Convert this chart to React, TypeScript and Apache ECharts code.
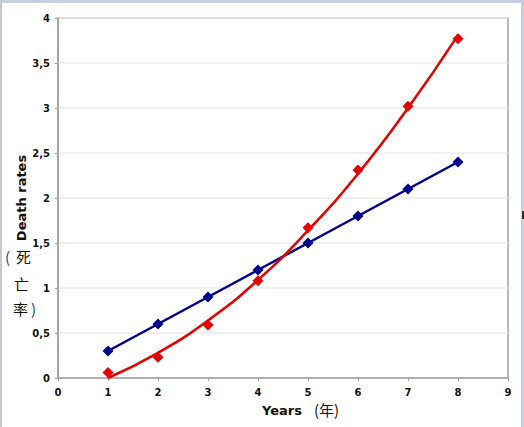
import React, { useEffect, useRef } from "react";
import * as echarts from "echarts";

const years = [1, 2, 3, 4, 5, 6, 7, 8];
const blueValues = [0.3, 0.6, 0.9, 1.2, 1.5, 1.8, 2.1, 2.4];
const redValues = [0.06, 0.23, 0.59, 1.08, 1.67, 2.31, 3.02, 3.77];
const redTrend = [0.0, 0.28, 0.64, 1.09, 1.64, 2.27, 3.0, 3.81];
const yTickLabels = ["0", "0,5", "1", "1,5", "2", "2,5", "3", "3,5", "4"];

const BLUE = "#00008f";
const RED = "#e60000";

export default function App() {
  const ref = useRef<HTMLDivElement>(null);
  useEffect(() => {
    if (!ref.current) return;
    const chart = echarts.init(ref.current, null, { renderer: "svg" });
    const pair = (vals: number[]) => years.map((x, i) => [x, vals[i]]);
    chart.setOption({
      animation: false,
      backgroundColor: "#ffffff",
      grid: {
        left: 58,
        right: 16,
        top: 18,
        bottom: 49,
        show: true,
        borderColor: "#a0a0a0",
        borderWidth: 1.5,
        backgroundColor: "transparent",
      },
      xAxis: {
        type: "value",
        min: 0,
        max: 9,
        interval: 1,
        axisLine: { show: true, lineStyle: { color: "#a0a0a0", width: 1.5 } },
        axisTick: { show: true, length: 3, lineStyle: { color: "#a0a0a0" } },
        splitLine: { show: false },
        axisLabel: {
          color: "#111",
          fontFamily: "DejaVu Sans",
          fontWeight: "bold",
          fontSize: 10,
          margin: 9,
        },
      },
      yAxis: {
        type: "value",
        min: 0,
        max: 4,
        interval: 0.5,
        axisLine: { show: true, lineStyle: { color: "#a0a0a0", width: 1.5 } },
        axisTick: { show: true, length: 3, lineStyle: { color: "#a0a0a0" } },
        splitLine: { show: true, lineStyle: { color: "#ebebeb", width: 1.5 } },
        axisLabel: {
          color: "#111",
          fontFamily: "DejaVu Sans",
          fontWeight: "bold",
          fontSize: 10,
          margin: 8,
          formatter: (v: number) => yTickLabels[Math.round(v * 2)] ?? String(v),
        },
      },
      series: [
        {
          type: "line",
          data: pair(blueValues),
          symbol: "diamond",
          symbolSize: 11,
          lineStyle: { color: BLUE, width: 2.5 },
          itemStyle: { color: BLUE, opacity: 1 },
          z: 2,
        },
        {
          type: "line",
          data: pair(redTrend),
          smooth: true,
          showSymbol: false,
          symbol: "none",
          lineStyle: { color: RED, width: 2.5 },
          z: 3,
        },
        {
          type: "scatter",
          data: pair(redValues),
          symbol: "diamond",
          symbolSize: 11,
          itemStyle: { color: RED, opacity: 1 },
          z: 4,
        },
      ],
      graphic: [
        { type: "rect", shape: { x: 0, y: 0, width: 524, height: 3 }, style: { fill: "#c6cfe0" }, silent: true },
        { type: "rect", shape: { x: 521, y: 0, width: 3, height: 427 }, style: { fill: "#c6cfe0" }, silent: true },
        { type: "rect", shape: { x: 522, y: 211, width: 2, height: 8 }, style: { fill: "#333" }, silent: true },
        { type: "rect", shape: { x: 0, y: 3, width: 2, height: 424 }, style: { fill: "#c8c8c8" }, silent: true },
        {
          type: "text",
          x: 21,
          y: 198,
          rotation: Math.PI / 2,
          style: {
            text: "Death rates",
            font: "bold 13px 'DejaVu Sans'",
            fill: "#111",
            align: "center",
            verticalAlign: "middle",
          },
        },
        {
          type: "text",
          left: 5,
          top: 249,
          style: { text: "(", font: "15px 'Noto Sans CJK SC'", fill: "#1a3d8f" },
        },
        {
          type: "text",
          left: 16,
          top: 249,
          style: { text: "死", font: "15px 'Noto Sans CJK SC'", fill: "#111" },
        },
        {
          type: "text",
          left: 14,
          top: 276,
          style: { text: "亡", font: "15px 'Noto Sans CJK SC'", fill: "#111" },
        },
        {
          type: "text",
          left: 13,
          top: 301,
          style: { text: "率", font: "15px 'Noto Sans CJK SC'", fill: "#111" },
        },
        {
          type: "text",
          left: 31,
          top: 301,
          style: { text: ")", font: "15px 'Noto Sans CJK SC'", fill: "#1a3d8f" },
        },
        {
          type: "text",
          left: 262,
          top: 404,
          style: { text: "Years", font: "bold 13px 'DejaVu Sans'", fill: "#111" },
        },
        {
          type: "text",
          left: 314,
          top: 402,
          style: { text: "(年)", font: "15px 'Noto Sans CJK SC'", fill: "#111" },
        },
      ],
    });
    return () => chart.dispose();
  }, []);
  return (
    <div
      ref={ref}
      style={{ position: "fixed", left: 0, top: 0, width: 524, height: 427 }}
    />
  );
}
